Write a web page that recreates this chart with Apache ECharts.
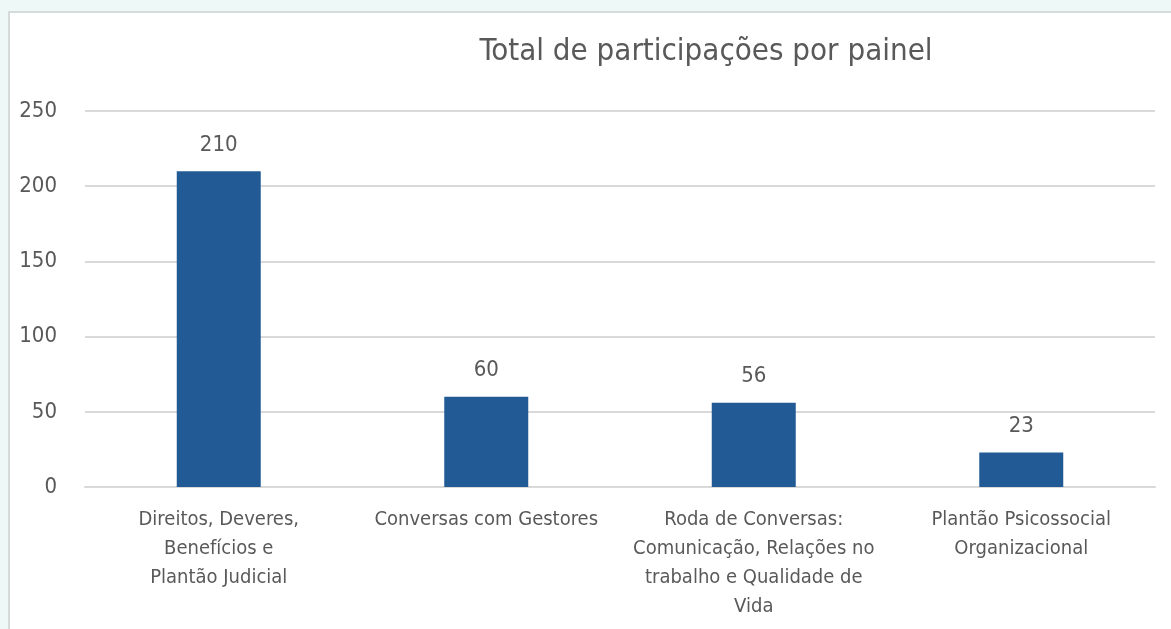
<!DOCTYPE html>
<html>
<head>
<meta charset="utf-8">
<script src="https://cdn.jsdelivr.net/npm/echarts@6/dist/echarts.min.js"></script>
<style>
  html, body { margin: 0; padding: 0; width: 1171px; height: 629px; overflow: hidden; background: #eef8f7; }
  .panel { position: absolute; left: 8px; top: 11px; width: 1180px; height: 640px; background: #fff; border: 2px solid #d5dada; }
  #chart { position: absolute; left: 0; top: 0; width: 1171px; height: 629px; }
</style>
</head>
<body>
<div class="panel"></div>
<div id="chart"></div>
<script>
var categories = [
  'Direitos, Deveres,\nBenefícios e\nPlantão Judicial',
  'Conversas com Gestores',
  'Roda de Conversas:\nComunicação, Relações no\ntrabalho e Qualidade de\nVida',
  'Plantão Psicossocial\nOrganizacional'
]
var values = [210, 60, 56, 23]
var yTicks = [0, 50, 100, 150, 200, 250]

var fontFam = "'Liberation Sans Narrow', 'DejaVu Sans Condensed', 'Liberation Sans', sans-serif"
var textGrey = '#595959'

var myChart = echarts.init(document.getElementById('chart'))
var option = {
  backgroundColor: 'transparent',
  animation: false,
  title: {
    text: 'Total de participações por painel',
    left: 701,
    top: 31,
    textAlign: 'center',
    textStyle: { fontFamily: fontFam, fontSize: 31, fontWeight: 'normal', color: textGrey }
  },
  grid: { left: 85, right: 16, top: 111, bottom: 142 },
  xAxis: {
    type: 'category',
    data: categories,
    axisTick: { show: false },
    axisLine: { lineStyle: { color: '#d9d9d9', width: 2 } },
    axisLabel: {
      interval: 0,
      margin: 18,
      color: textGrey,
      fontFamily: fontFam,
      fontSize: 20,
      lineHeight: 29
    }
  },
  yAxis: {
    type: 'value',
    min: yTicks[0],
    max: yTicks[yTicks.length - 1],
    interval: 50,
    axisLine: { show: false },
    axisTick: { show: false },
    splitLine: { lineStyle: { color: '#d9d9d9', width: 2 } },
    axisLabel: { margin: 28, color: textGrey, fontFamily: fontFam, fontSize: 22 }
  },
  series: [{
    type: 'bar',
    data: values,
    barWidth: 84,
    itemStyle: { color: '#225a96' },
    label: {
      show: true,
      position: 'top',
      distance: 15,
      color: textGrey,
      fontFamily: fontFam,
      fontSize: 22
    }
  }]
}
myChart.setOption(option)
</script>
</body>
</html>
